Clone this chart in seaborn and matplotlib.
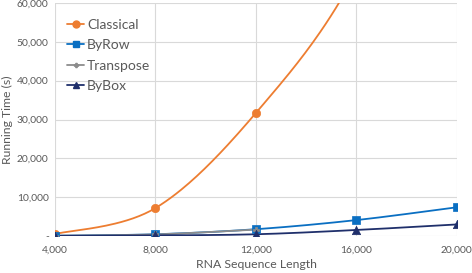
import numpy as np
import pandas as pd
import matplotlib
matplotlib.use("Agg")
import matplotlib.pyplot as plt
from matplotlib.lines import Line2D
import seaborn as sns

lengths = [4000, 8000, 12000, 16000, 20000]
classical = [500, 7200, 31700, 68000, 130000]
by_row = [80, 450, 1750, 4100, 7400]
transpose = [70, 420, 1650, np.nan, np.nan]
by_box = [30, 150, 450, 1550, 2980]

series = ["Classical", "ByRow", "Transpose", "ByBox"]
values = [classical, by_row, transpose, by_box]
colors = ["#ED7D31", "#0A6FC2", "#8C8C8C", "#1F2F6B"]
markers = ["o", "s", "P", "^"]
msizes = [6, 6, 4, 6]


def smooth(xs, ys, n=40):
    # Excel-like smoothed line: bezier segments with catmull-rom controls
    pts = [(x, y) for x, y in zip(xs, ys) if not np.isnan(y)]
    pts = np.array(pts, dtype=float)
    out = []
    for i in range(len(pts) - 1):
        p0 = pts[max(i - 1, 0)]
        p1 = pts[i]
        p2 = pts[i + 1]
        p3 = pts[min(i + 2, len(pts) - 1)]
        c1 = p1 + (p2 - p0) / 6
        c2 = p2 - (p3 - p1) / 6
        t = np.linspace(0, 1, n)[:, None]
        seg = ((1 - t) ** 3) * p1 + 3 * ((1 - t) ** 2) * t * c1 \
            + 3 * (1 - t) * t ** 2 * c2 + t ** 3 * p2
        out.append(seg if i == 0 else seg[1:])
    return np.vstack(out)


rows = []
for name, v in zip(series, values):
    for x, y in smooth(lengths, v):
        rows.append({"series": name, "x": x, "y": y})
curve_df = pd.DataFrame(rows)

pts_df = pd.DataFrame({
    "series": np.repeat(series, len(lengths)),
    "x": lengths * len(series),
    "y": np.concatenate(values),
}).dropna()

sns.set_theme(style="white")
plt.rcParams["font.family"] = ["Lato", "DejaVu Sans"]

fig = plt.figure(figsize=(4.72, 2.73), dpi=100)
ax = fig.add_axes([0.1165, 0.1355, 0.8515, 0.8535])

for name, c in zip(series, colors):
    sub = curve_df[curve_df["series"] == name]
    sns.lineplot(data=sub, x="x", y="y", color=c, lw=1.3, sort=False,
                 estimator=None, ax=ax, legend=False)
for name, c, m, ms in zip(series, colors, markers, msizes):
    sub = pts_df[pts_df["series"] == name]
    sns.scatterplot(data=sub, x="x", y="y", color=c, marker=m, s=ms ** 2,
                    edgecolor=c, linewidth=0.5, ax=ax, legend=False, zorder=3)

ax.set_xlim(4000, 20000)
ax.set_ylim(0, 60000)
ax.set_xticks([4000, 8000, 12000, 16000, 20000])
ax.set_yticks(range(0, 60001, 10000))
ax.set_xticklabels([f"{v:,}" for v in [4000, 8000, 12000, 16000, 20000]])
ax.set_yticklabels(["-"] + [f"{v:,}" for v in range(10000, 60001, 10000)])
ax.grid(True, color="#D9D9D9", lw=0.8)
for s in ax.spines.values():
    s.set_visible(False)
ax.tick_params(axis="both", labelsize=7.4, colors="#595959", length=0)
ax.tick_params(axis="y", pad=4.5)
ax.tick_params(axis="x", pad=7)
ax.set_xlabel("RNA Sequence Length", fontsize=8.8, color="#595959")
ax.set_ylabel("Running Time (s)", fontsize=8.8, color="#595959")
ax.yaxis.set_label_coords(-0.104, 0.5)
ax.xaxis.set_label_coords(0.5, -0.1)

handles = [Line2D([0], [0], color=c, marker=m, markersize=ms - 1, lw=1.3)
           for c, m, ms in zip(colors, markers, msizes)]
leg = ax.legend(handles, series, loc="upper left", bbox_to_anchor=(0.0, 0.985),
                frameon=False, fontsize=10, handlelength=1.2, handletextpad=0.2,
                labelspacing=0.6, labelcolor="#595959")

fig.savefig("out.png", dpi=100)
